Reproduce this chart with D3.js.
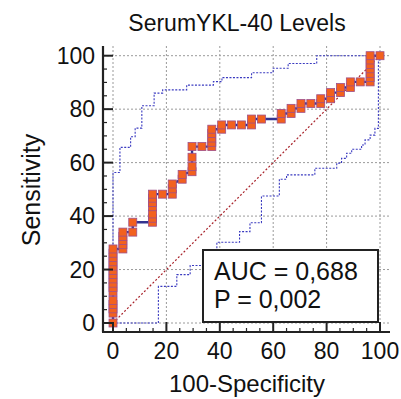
<!DOCTYPE html>
<html><head><meta charset="utf-8">
<script src="https://cdn.jsdelivr.net/npm/d3@7/dist/d3.min.js"></script>
<style>html,body{margin:0;padding:0;background:#fff;} text{font-family:"Liberation Sans",Arial,sans-serif;fill:#111;}</style>
</head><body><svg id="c" width="401" height="399"></svg>
<script>
// ROC points (100-Specificity, Sensitivity)
const rocFpr = [
  0,0,0,0,0,0,0,0,0,0,0,0,0,0,0,0,
  3.7,3.7,3.7,3.7,3.7,
  7.4,7.4,
  14.8,14.8,14.8,14.8,14.8,14.8,14.8,
  18.5,
  22.2,22.2,22.2,
  25.9,25.9,
  29.6,29.6,29.6,29.6,
  33.3,
  37.0,37.0,37.0,37.0,37.0,
  40.7,40.7,
  44.4,
  48.1,
  51.9,51.9,
  55.6,
  63.0,63.0,
  66.7,66.7,
  70.4,70.4,
  74.1,
  77.8,77.8,
  81.5,81.5,
  85.2,85.2,
  88.9,88.9,
  92.6,
  96.3,96.3,96.3,96.3,96.3,96.3,96.3,
  100
];
const rocSens = [
  0,3.7,5.3,6.9,8.4,11.7,13.3,14.9,16.5,18.1,19.7,21.3,22.9,24.5,26.1,27.7,
  27.7,29.3,30.9,32.4,34.0,
  34.0,37.7,
  37.7,39.2,40.8,43.5,45.1,46.7,48.2,
  48.2,
  48.2,50.2,52.0,
  53.8,55.6,
  56.6,58.5,62.0,66.0,
  66.0,
  66.0,67.6,69.2,70.9,72.5,
  72.5,74.1,
  74.1,
  74.1,
  74.1,76.3,
  76.3,
  76.3,78.4,
  78.4,80.3,
  80.3,82.1,
  82.1,
  82.1,83.9,
  83.9,86.2,
  86.2,88.1,
  88.1,90.2,
  90.2,
  90.2,91.8,93.4,95.1,96.7,98.4,100,
  100
];
// 95% confidence bounds (step functions)
const upperFpr  = [0, 0, 2.6, 6.6, 8.3, 10.8, 15.4, 18.6, 27.6, 37.6, 40.8, 51.9, 60.0, 65.6, 76.3, 100];
const upperSens = [28, 56.3, 65.7, 69.7, 72.9, 81.3, 86.0, 87.2, 89.0, 90.3, 91.8, 93.6, 95.3, 97.1, 100, 100];
const lowerFpr  = [0, 17.0, 23.9, 28.9, 38.9, 47.4, 51.3, 55.6, 62.3, 65.0, 75.6, 83.8, 85.6, 87.5, 89.4, 93.1, 94.4, 96.3, 98.1, 99.4, 100];
const lowerSens = [0, 13.7, 18.1, 21.5, 30.2, 34.2, 37.5, 47.5, 53.8, 55.4, 57.9, 59.8, 61.6, 63.5, 65.0, 66.6, 68.5, 70.3, 72.8, 98.4, 100];

const xTicks = [0, 20, 40, 60, 80, 100];
const yTicks = [0, 20, 40, 60, 80, 100];
const minorTicks = d3.range(0, 101, 5);
const title = "SerumYKL-40 Levels";
const xTitle = "100-Specificity";
const yTitle = "Sensitivity";
const statLines = ["AUC = 0,688", "P = 0,002"];

const svg = d3.select('#c');
svg.append('rect').attr('width',401).attr('height',399).attr('fill','#fff');
const x = d3.scaleLinear().domain([0,100]).range([113,380]);
const y = d3.scaleLinear().domain([0,100]).range([323,55.7]);
const xMin = 103, xMax = 390, yBot = 332, yTop = 46;

// grid
const grid = svg.append('g').attr('stroke','#9a9a9a').attr('stroke-width',1).attr('stroke-dasharray','2,2');
grid.selectAll('.gx').data(xTicks).join('line')
  .attr('x1',d=>x(d)).attr('x2',d=>x(d)).attr('y1',yTop).attr('y2',yBot);
grid.selectAll('.gy').data(yTicks).join('line')
  .attr('y1',d=>y(d)).attr('y2',d=>y(d)).attr('x1',xMin).attr('x2',xMax);

// diagonal
svg.append('line').attr('x1',x(0)).attr('y1',y(0)).attr('x2',x(100)).attr('y2',y(100))
  .attr('stroke','#a8222a').attr('stroke-width',1.2).attr('stroke-dasharray','2,2');

// confidence bands
const stepLine = d3.line().x(d=>x(d[0])).y(d=>y(d[1])).curve(d3.curveStepAfter);
[[upperFpr,upperSens],[lowerFpr,lowerSens]].forEach(([fx,fy])=>{
  svg.append('path').datum(fx.map((v,i)=>[v,fy[i]])).attr('d',stepLine)
    .attr('fill','none').attr('stroke','#3a3ac0').attr('stroke-width',1.1).attr('stroke-dasharray','2,1.5');
});

// ROC line
const pts = rocFpr.map((v,i)=>[v, rocSens[i]]);
svg.append('path').datum(pts).attr('d', d3.line().x(d=>x(d[0])).y(d=>y(d[1])))
  .attr('fill','none').attr('stroke','#33338f').attr('stroke-width',2.4);
const ms = 8;
svg.append('g').selectAll('rect').data(pts).join('rect')
  .attr('x',d=>x(d[0])-ms/2).attr('y',d=>y(d[1])-ms/2).attr('width',ms).attr('height',ms)
  .attr('fill','#f2611e').attr('stroke','#9f4f8a').attr('stroke-width',0.8);

// stat box
svg.append('rect').attr('x',203).attr('y',250).attr('width',175).attr('height',72)
  .attr('fill','#fff').attr('stroke','#222').attr('stroke-width',2);
svg.append('g').selectAll('text').data(statLines).join('text')
  .attr('x',214).attr('y',(d,i)=>280+i*28).attr('font-size',25).text(d=>d);

// axes
const ax = svg.append('g').attr('stroke','#222');
ax.append('line').attr('x1',xMin).attr('x2',xMin).attr('y1',yTop).attr('y2',yBot).attr('stroke-width',2.2);
ax.append('line').attr('x1',xMin-1).attr('x2',xMax).attr('y1',yBot).attr('y2',yBot).attr('stroke-width',2.2);
ax.selectAll('.my').data(minorTicks).join('line')
  .attr('x1',xMin).attr('x2',d=>xMin+(d%20===0?10:4)).attr('y1',d=>y(d)).attr('y2',d=>y(d))
  .attr('stroke-width',d=>d%20===0?2:1.2);
ax.selectAll('.mx').data(minorTicks).join('line')
  .attr('y1',yBot).attr('y2',d=>yBot-(d%20===0?10:4)).attr('x1',d=>x(d)).attr('x2',d=>x(d))
  .attr('stroke-width',d=>d%20===0?2:1.2);

svg.append('g').selectAll('text').data(yTicks).join('text')
  .attr('x',95).attr('y',d=>y(d)).attr('dy','0.36em').attr('text-anchor','end')
  .attr('font-size',23).text(d=>d);
svg.append('g').selectAll('text').data(xTicks).join('text')
  .attr('x',d=>x(d)).attr('y',359).attr('text-anchor','middle')
  .attr('font-size',23).text(d=>d);

svg.append('text').attr('x',237).attr('y',31).attr('text-anchor','middle').attr('font-size',23).text(title);
svg.append('text').attr('x',247).attr('y',392).attr('text-anchor','middle').attr('font-size',24).text(xTitle);
svg.append('text').attr('transform','translate(40,190) rotate(-90)').attr('text-anchor','middle').attr('font-size',25).text(yTitle);
</script></body></html>
